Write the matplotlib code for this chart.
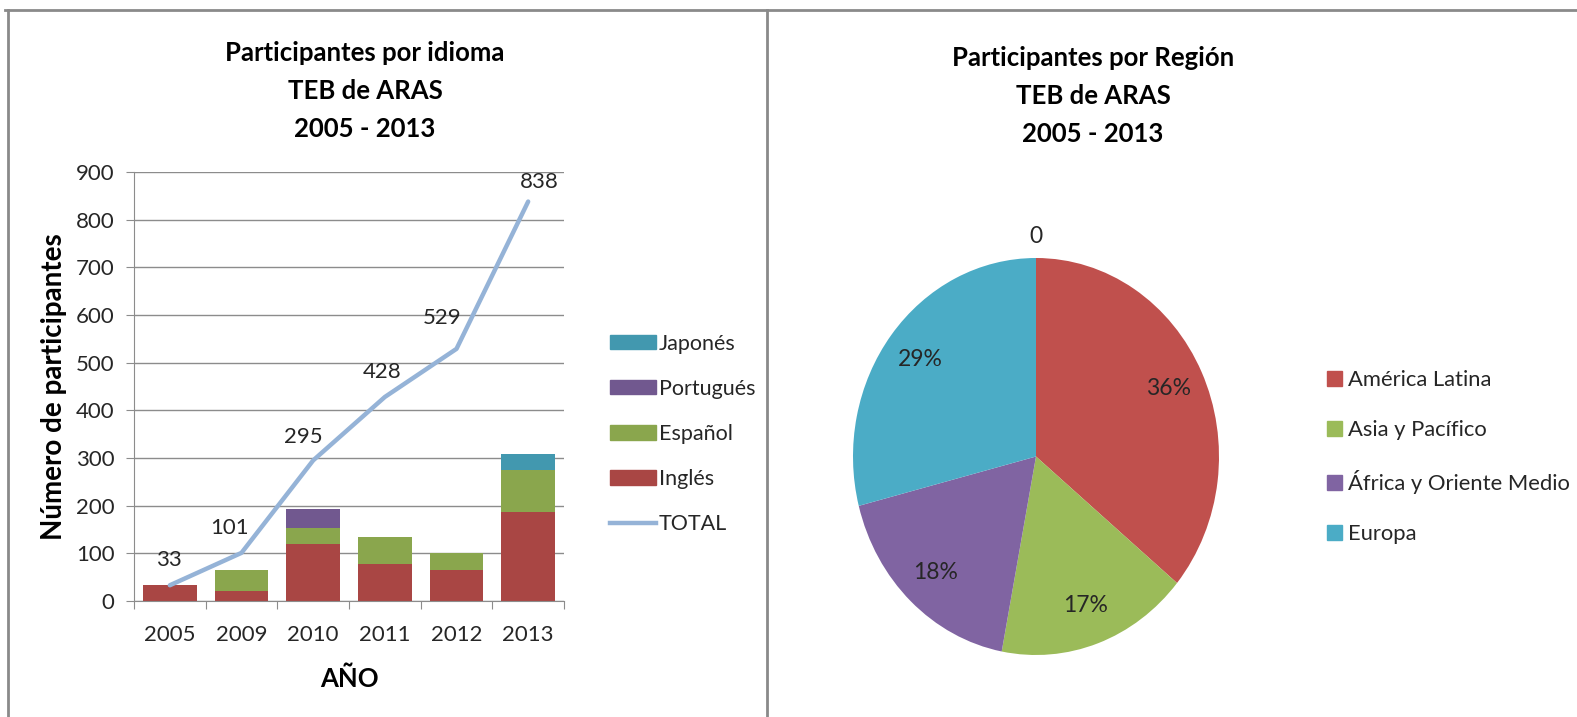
import matplotlib
matplotlib.use("Agg")
import matplotlib.pyplot as plt
from matplotlib.patches import Patch
from matplotlib.lines import Line2D
import numpy as np

plt.rcParams['font.family'] = ['Lato', 'DejaVu Sans']

# --- data: participants by language ---
years = ['2005', '2009', '2010', '2011', '2012', '2013']
ingles = [33, 21, 120, 77, 65, 187]
espanol = [0, 45, 33, 57, 35, 88]
portugues = [0, 0, 41, 0, 0, 0]
japones = [0, 0, 0, 0, 0, 33]
total = [33, 101, 295, 428, 529, 838]

# --- data: participants by region ---
regions = ['América Latina', 'Asia y Pacífico', 'África y Oriente Medio', 'Europa']
region_pct = [36, 17, 18, 29]
extra_label = 0

# label nudges (pixels) for the TOTAL data labels, like Excel placed them
label_dx = [-1, -12, -10, -3, -14, 11]
label_dy = [25, 25, 23, 25, 31, 20]

c_ing = '#A94644'
c_esp = '#8AA64D'
c_por = '#71588F'
c_jap = '#4298AF'
c_tot = '#95B3D7'
pie_colors = ['#C0504D', '#9BBB59', '#8064A2', '#4BACC6']
text_c = '#262626'
grid_c = '#8C8C8C'

W, H = 1577, 717
fig = plt.figure(figsize=(W / 100, H / 100), dpi=100)
px = 72 / 100  # points per pixel

# frame lines
border = '#8A8A8A'
fig.add_artist(Line2D([5 / W, 1], [1 - 10 / H, 1 - 10 / H], color=border, lw=2))
fig.add_artist(Line2D([8 / W, 8 / W], [0, 1 - 10 / H], color=border, lw=2))
fig.add_artist(Line2D([767 / W, 767 / W], [0, 1 - 10 / H], color=border, lw=2))

# ---------------- bar + line chart ----------------
ax = fig.add_axes([134 / W, 1 - 601 / H, 430 / W, 429 / H])
x = np.arange(len(years))
w = 0.75
b1 = np.array(ingles)
b2 = b1 + np.array(espanol)
b3 = b2 + np.array(portugues)
ax.bar(x, ingles, w, color=c_ing, zorder=2)
ax.bar(x, espanol, w, bottom=b1, color=c_esp, zorder=2)
ax.bar(x, portugues, w, bottom=b2, color=c_por, zorder=2)
ax.bar(x, japones, w, bottom=b3, color=c_jap, zorder=2)
ax.plot(x, total, color=c_tot, lw=3.2, zorder=3, solid_capstyle='round')
for xi, t, dx, dy in zip(x, total, label_dx, label_dy):
    ax.annotate(str(t), (xi, t), xytext=(dx * px, dy * px), textcoords='offset points',
                ha='center', va='center', fontsize=16, color=text_c)

ax.set_xlim(-0.5, 5.5)
ax.set_ylim(0, 900)
ax.set_yticks(range(0, 901, 100))
ax.yaxis.grid(True, color=grid_c, lw=1)
ax.set_axisbelow(True)
ax.set_xticks(np.arange(-0.5, 6, 1))
ax.set_xticklabels([])
ax.set_xticks(x, minor=True)
ax.set_xticklabels(years, minor=True)
ax.tick_params(axis='x', which='major', length=6, color=grid_c)
ax.tick_params(axis='x', which='minor', length=0, pad=17, labelsize=16, labelcolor=text_c)
ax.tick_params(axis='y', length=6, color=grid_c, pad=8, labelsize=16, labelcolor=text_c)
for s in ['top', 'right']:
    ax.spines[s].set_visible(False)
for s in ['left', 'bottom']:
    ax.spines[s].set_color(grid_c)
ax.set_ylabel('Número de participantes', fontsize=20, fontweight='bold', labelpad=6, color='black')
ax.set_xlabel('AÑO', fontsize=18.5, fontweight='bold', labelpad=16, color='black')

fig.text(365 / W, 1 - 91 / H, 'Participantes por idioma\nTEB de ARAS\n2005 - 2013',
         ha='center', va='center', fontsize=18.5, fontweight='bold', linespacing=1.68)

handles = [Patch(color=c_jap), Patch(color=c_por), Patch(color=c_esp), Patch(color=c_ing),
           Line2D([], [], color=c_tot, lw=3.2)]
ax.legend(handles, ['Japonés', 'Portugués', 'Español', 'Inglés', 'TOTAL'],
          loc='center left', bbox_to_anchor=(599 / W, 1 - 434 / H), bbox_transform=fig.transFigure,
          frameon=False, fontsize=15.5, handlelength=2.15, handleheight=0.65,
          handletextpad=0.12, labelspacing=1.17, borderpad=0, labelcolor=text_c)

# ---------------- pie chart ----------------
pax = fig.add_axes([853 / W, 1 - 655 / H, 366 / W, 397 / H])
wedges, _, autotexts = pax.pie(region_pct, colors=pie_colors, startangle=90, counterclock=False,
                               autopct='%d%%', pctdistance=0.8, radius=1,
                               wedgeprops=dict(linewidth=0),
                               textprops=dict(fontsize=16.5, color=text_c))
pax.set_aspect('auto')
pax.set_xlim(-1, 1)
pax.set_ylim(-1, 1)
pax.text(0, 1.11, str(extra_label), ha='center', va='center', fontsize=16.5, color=text_c)

fig.text(1093 / W, 1 - 96 / H, 'Participantes por Región\nTEB de ARAS\n2005 - 2013',
         ha='center', va='center', fontsize=18.5, fontweight='bold', linespacing=1.68)

pax.legend([Patch(color=c) for c in pie_colors], regions,
           loc='center left', bbox_to_anchor=(1316 / W, 1 - 457 / H), bbox_transform=fig.transFigure,
           frameon=False, fontsize=15.8, handlelength=0.68, handleheight=0.68,
           handletextpad=0.3, labelspacing=1.36, borderpad=0, labelcolor=text_c)

fig.savefig('out.png', dpi=100, facecolor='white')
